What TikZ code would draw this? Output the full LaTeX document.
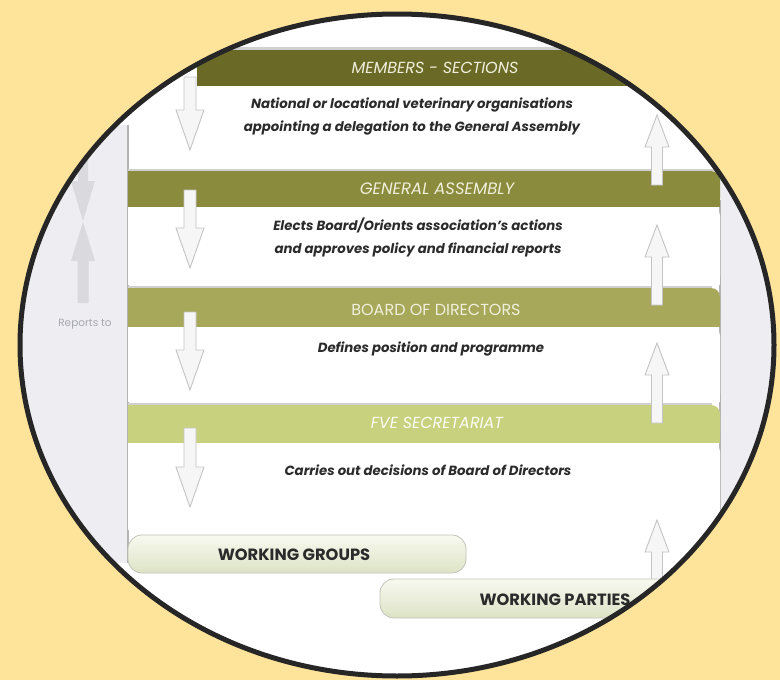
\documentclass[tikz,border=0pt]{standalone}
\usepackage{fontspec}
\setmainfont{Poppins}
\definecolor{bgyellow}{HTML}{FEE49B}
\definecolor{ringcol}{HTML}{262626}
\definecolor{lav}{HTML}{EDEDF2}
\definecolor{bandA}{HTML}{6A6A26}
\definecolor{bandB}{HTML}{8B8B3D}
\definecolor{bandC}{HTML}{A7A85A}
\definecolor{bandD}{HTML}{C8D27E}
\definecolor{bandtxt}{HTML}{F0EFDC}
\definecolor{bodytxt}{HTML}{2B2B2B}
\definecolor{arrfill}{HTML}{F6F6F6}
\definecolor{arredge}{HTML}{C4C4C4}
\definecolor{gline}{HTML}{B4B4B4}
\definecolor{shadowcol}{HTML}{D0D0D0}
\definecolor{pilltop}{HTML}{F8F9F0}
\definecolor{pillbot}{HTML}{DDE3C6}
\definecolor{pilledge}{HTML}{C2C4B8}
\definecolor{leftarr}{HTML}{D9D9DE}
\definecolor{reptxt}{HTML}{A8A8B0}
\tikzset{
  bandtext/.style={text=bandtxt, font=\fontsize{16}{18}\selectfont\itshape, inner sep=0pt},
  bodytext/.style={text=bodytxt, font=\fontsize{13.3}{23}\selectfont\bfseries\itshape, align=center, inner sep=0pt},
  pilltext/.style={text=bodytxt, font=\fontsize{16.3}{18}\selectfont\bfseries, inner sep=0pt},
  blockarr/.style={fill=arrfill, draw=arredge, line width=0.9pt, line join=miter},
  pill/.style={top color=pilltop, bottom color=pillbot, draw=pilledge, line width=0.8pt, rounded corners=14pt},
  gridline/.style={draw=gline, line width=1.4pt},
  bandshadow/.style={draw=shadowcol, line width=2.5pt}
}
\newcommand{\downarr}[3]{%
  \path[blockarr] ({#1-6},#2) -- ({#1+6},#2) -- ({#1+6},{#3-40}) -- ({#1+14},{#3-40}) -- (#1,#3) -- ({#1-14},{#3-40}) -- ({#1-6},{#3-40}) -- cycle;}
\newcommand{\uparr}[3]{%
  \path[blockarr] ({#1-5.5},#3) -- ({#1+5.5},#3) -- ({#1+5.5},{#2+32}) -- ({#1+12},{#2+32}) -- (#1,#2) -- ({#1-12},{#2+32}) -- ({#1-5.5},{#2+32}) -- cycle;}
\newcommand{\bandbox}[4]{% x0, y0, y1, colour
  \fill[#4, rounded corners=9pt] (#1,#2) rectangle (720,#3);
  \fill[#4] (#1,#2) rectangle (705,#3);
  \fill[#4] (#1,{#2+12}) rectangle (720,#3);}
\newcommand{\whitebox}[2]{% y0, y1
  \fill[white, rounded corners=9pt] (128,#1) rectangle (720,#2);
  \fill[white] (128,#1) rectangle (705,#2);
  \fill[white] (128,{#1+12}) rectangle (720,#2);}
\begin{document}
\begin{tikzpicture}[x=1pt,y=-1pt]
\useasboundingbox (0,0) rectangle (780,680);
\fill[bgyellow] (0,0) rectangle (780,680);
\begin{scope}
  \clip (397,345) ellipse [x radius=377pt, y radius=331pt];
  \fill[white] (0,0) rectangle (780,680);
  \fill[lav] (0,125) rectangle (128,563);
  \fill[lav] (720,180) rectangle (780,578);
  % left column
  \draw[gridline] (128,125) -- (128,563);
  \draw[gridline] (720,200) -- (720,578);
  \path[fill=leftarr] (78,120) -- (88,120) -- (88,181) -- (95,181) -- (83,221) -- (71,181) -- (78,181) -- cycle;
  \path[fill=leftarr] (77.5,303) -- (88.5,303) -- (88.5,261) -- (95,261) -- (83,222) -- (71,261) -- (77.5,261) -- cycle;
  \node[text=reptxt, font=\fontsize{10.5}{12}\selectfont, inner sep=0pt] (reports) at (85,324) {Reports to};
  % members band
  \draw[bandshadow] (197,48.5) -- (780,48.5);
  \fill[bandA] (197,50) rectangle (780,86);
  \node[bandtext] (members) at (435,68) {MEMBERS - SECTIONS};
  \node[bodytext] (membersdesc) at (412,116.5) {National or locational veterinary organisations\\appointing a delegation to the General Assembly};
  % general assembly
  \draw[bandshadow] (128,170) -- (715,170);
  \bandbox{128}{171}{207}{bandB}
  \whitebox{207}{285}
  \node[bandtext, font=\fontsize{16.5}{18}\selectfont\itshape] (ga) at (437,189) {GENERAL ASSEMBLY};
  \node[bodytext] (gadesc) at (418,237.5) {Elects Board/Orients association’s actions\\and approves policy and financial reports};
  % board
  \draw[bandshadow] (128,287) -- (712,287);
  \bandbox{128}{288}{327}{bandC}
  \whitebox{327}{402}
  \node[bandtext, font=\fontsize{16}{18}\selectfont] (board) at (436,310) {BOARD OF DIRECTORS};
  \node[bodytext] (boarddesc) at (431,349) {Defines position and programme};
  % secretariat
  \draw[bandshadow] (128,404) -- (712,404);
  \bandbox{128}{405}{443}{bandD}
  \whitebox{443}{530}
  \node[bandtext, text=white!92!bandD] (fve) at (437,423) {FVE SECRETARIAT};
  \node[bodytext] (fvedesc) at (428,470) {Carries out decisions of Board of Directors};
  % arrows down
  \downarr{190}{77}{150}
  \downarr{190}{190}{268}
  \downarr{190}{312}{390}
  \downarr{190}{428}{507}
  % arrows up
  \uparr{657}{115}{185}
  \uparr{657}{225}{305}
  \uparr{657}{343}{423}
  \uparr{657}{520}{610}
  % working groups / parties
  \path[pill] (128,535) rectangle (466,573);
  \node[pilltext] (wg) at (294,555) {WORKING GROUPS};
  \path[pill] (380,579) rectangle (780,618);
  \node[pilltext] (wp) at (555,600) {WORKING PARTIES};
\end{scope}
\draw[ringcol, line width=5pt] (397,345) ellipse [x radius=377pt, y radius=331pt];
\end{tikzpicture}
\end{document}
